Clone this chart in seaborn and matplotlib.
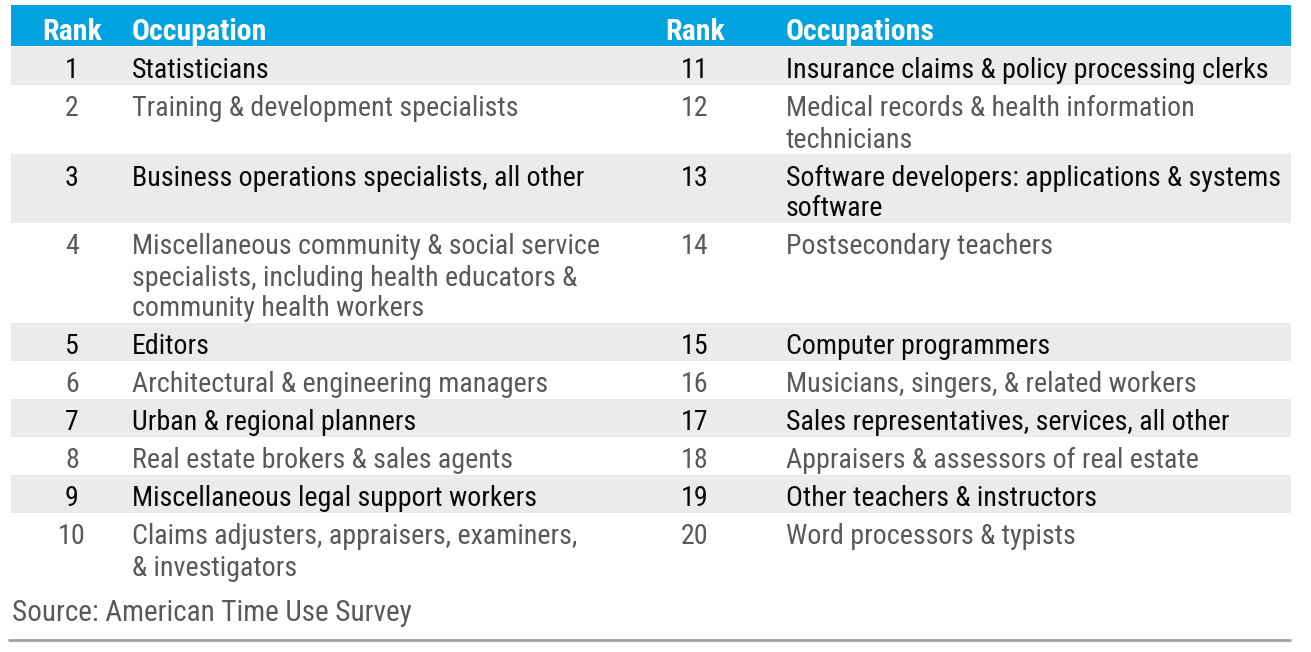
import matplotlib
matplotlib.use('Agg')
import matplotlib.pyplot as plt
import seaborn as sns

# Table contents
ranks_left = [1, 2, 3, 4, 5, 6, 7, 8, 9, 10]
occupations_left = [
    "Statisticians",
    "Training & development specialists",
    "Business operations specialists, all other",
    "Miscellaneous community & social service\nspecialists, including health educators &\ncommunity health workers",
    "Editors",
    "Architectural & engineering managers",
    "Urban & regional planners",
    "Real estate brokers & sales agents",
    "Miscellaneous legal support workers",
    "Claims adjusters, appraisers, examiners,\n& investigators",
]
ranks_right = [11, 12, 13, 14, 15, 16, 17, 18, 19, 20]
occupations_right = [
    "Insurance claims & policy processing clerks",
    "Medical records & health information\ntechnicians",
    "Software developers: applications & systems\nsoftware",
    "Postsecondary teachers",
    "Computer programmers",
    "Musicians, singers, & related workers",
    "Sales representatives, services, all other",
    "Appraisers & assessors of real estate",
    "Other teachers & instructors",
    "Word processors & typists",
]
headers = ["Rank", "Occupation", "Rank", "Occupations"]
source = "Source: American Time Use Survey"

sns.set_theme(style="white")
plt.rcParams['font.family'] = ['Roboto Condensed', 'DejaVu Sans']

BLUE = '#00A3E0'
GRAY_BAND = '#EBEBEB'
DARK = '#0A0A0A'
MID = '#595959'
FS = 20.2

fig = plt.figure(figsize=(13.11, 6.52), dpi=100)
ax = fig.add_axes([0, 0, 1, 1])
ax.set_xlim(0, 1311)
ax.set_ylim(652, 0)
ax.axis('off')

x0, x1 = 11, 1291
rank_x = [72, 695]
occ_x = [132, 786]
line_h = 31

# header band
ax.axhspan(5, 46, xmin=x0 / 1311, xmax=x1 / 1311, color=BLUE, lw=0)
for x, h, ha in zip([rank_x[0], occ_x[0], rank_x[1], occ_x[1]], headers,
                    ['center', 'left', 'center', 'left']):
    ax.text(x, 40, h, ha=ha, va='baseline', color='white',
            fontsize=21.5, fontweight='bold')

# body rows
top = 47
for i in range(len(ranks_left)):
    n = max(occupations_left[i].count('\n'), occupations_right[i].count('\n')) + 1
    h = 7 + line_h * n
    shaded = i % 2 == 0
    if shaded:
        ax.axhspan(top, top + h, xmin=x0 / 1311, xmax=x1 / 1311,
                   color=GRAY_BAND, lw=0)
    col = DARK if shaded else MID
    for side, (rk, occ) in enumerate([(ranks_left[i], occupations_left[i]),
                                      (ranks_right[i], occupations_right[i])]):
        base = top + 31.5
        ax.text(rank_x[side], base, str(rk), ha='center', va='baseline',
                color=col, fontsize=FS)
        for j, line in enumerate(occ.split('\n')):
            ax.text(occ_x[side], base + j * line_h, line, ha='left',
                    va='baseline', color=col, fontsize=FS)
    top += h

ax.text(12, 621, source, ha='left', va='baseline', color=MID, fontsize=21)
ax.plot([8, x1], [640, 640], color='#A0A0A0', lw=2, solid_capstyle='butt')

fig.savefig('out.png', dpi=100)
